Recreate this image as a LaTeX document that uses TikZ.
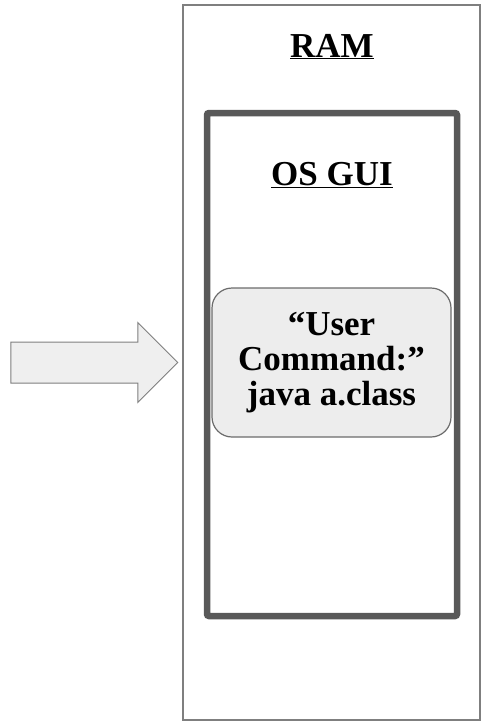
\documentclass[tikz,border=0pt]{standalone}
\usepackage{fontspec}
\setmainfont{Liberation Serif}
\usetikzlibrary{shapes.arrows}
\definecolor{ramgray}{HTML}{7F7F7F}
\definecolor{osgray}{HTML}{595959}
\definecolor{cmdgray}{HTML}{6B6B6B}
\definecolor{cmdfill}{HTML}{EDEDED}
\definecolor{arrowfill}{HTML}{EFEFEF}
\tikzset{
    bigtext/.style={font=\fontsize{35}{35}\selectfont\bfseries, inner sep=0pt},
    rambox/.style={draw=ramgray, line width=1.2pt, minimum width=297pt, minimum height=715pt, inner sep=0pt},
    osbox/.style={draw=osgray, line width=6.5pt, rounded corners=2pt, minimum width=250pt, minimum height=503pt, inner sep=0pt},
    cmdbox/.style={bigtext, draw=cmdgray, fill=cmdfill, line width=1.2pt, rounded corners=20pt, minimum width=239pt, minimum height=149pt, align=center},
    pusharrow/.style={single arrow, draw=ramgray, fill=arrowfill, line width=1pt, minimum height=167pt, minimum width=79pt, single arrow head extend=19.5pt, single arrow head indent=0pt, inner xsep=0pt, inner ysep=20pt}
}

\begin{document}
\begin{tikzpicture}[x=1pt,y=-1pt]
    \useasboundingbox (0,0) rectangle (489,723);
    \node[rambox] (ram) at (331.5,362.5) {};
    \node[bigtext, anchor=base] (ramtitle) at (332,57) {\underline{RAM}};
    \node[osbox] (os) at (332,364.5) {};
    \node[bigtext, anchor=base] (ostitle) at (332,185) {\underline{OS GUI}};
    \node[cmdbox] (cmd) at (331.5,362.5) {“User\\Command:”\\java a.class};
    \node[pusharrow] (push) at (84,362.5) {};
\end{tikzpicture}
\end{document}
